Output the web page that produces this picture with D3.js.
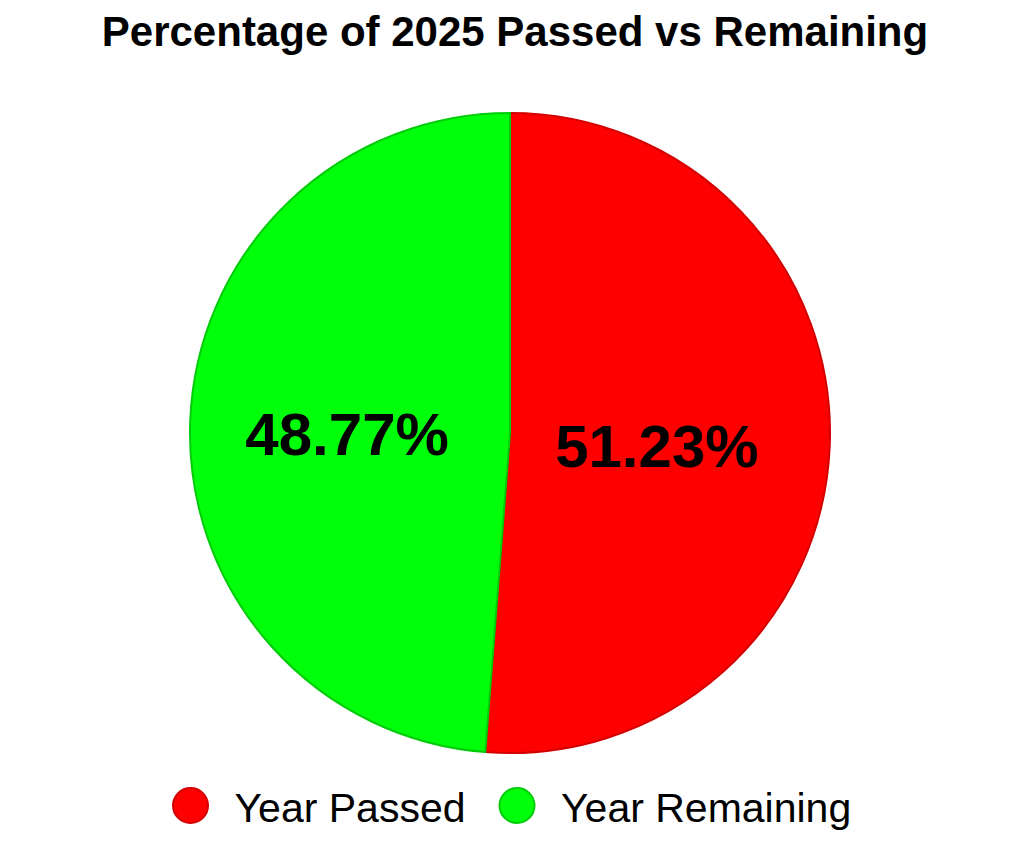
<!DOCTYPE html>
<html><head><meta charset="utf-8">
<script src="https://cdn.jsdelivr.net/npm/d3@7"></script>
<style>html,body{margin:0;padding:0;background:#fff;}</style>
</head><body>
<svg id="chart" width="1029" height="854"></svg>
<script>
const categories = ["Year Passed", "Year Remaining"];
const values = [51.23, 48.77];
const colors = ["#ff0000", "#00ff0a"];
const strokes = ["#d40000", "#00cc0a"];
const title = "Percentage of 2025 Passed vs Remaining";

const svg = d3.select("#chart");
const cx = 510, cy = 433, R = 320;
const font = "'Liberation Sans', Arial, Helvetica, sans-serif";

svg.append("text").attr("x", 515).attr("y", 46).attr("text-anchor", "middle")
  .attr("font-family", font).attr("font-weight", "bold").attr("font-size", 42)
  .text(title);

const pie = d3.pie().sort(null).value(d => d.v);
const data = pie(categories.map((c, i) => ({c, v: values[i], i})));
const arc = d3.arc().innerRadius(0).outerRadius(R);
const labelArc = d3.arc().innerRadius(155).outerRadius(155);

const g = svg.append("g").attr("transform", `translate(${cx},${cy})`);
g.selectAll("path").data(data).join("path")
  .attr("d", arc)
  .attr("fill", d => colors[d.data.i])
  .attr("stroke", d => strokes[d.data.i])
  .attr("stroke-width", 2);

g.selectAll("text").data(data).join("text")
  .attr("transform", d => { const p = labelArc.centroid(d); return `translate(${p[0] - 8},${p[1] + 6})`; })
  .attr("text-anchor", "middle").attr("dy", "0.36em")
  .attr("font-family", font).attr("font-weight", "bold").attr("font-size", 60)
  .text(d => d.data.v.toFixed(2) + "%");

// legend
const lg = svg.append("g");
const legendX = [190.5, 517];
categories.forEach((c, i) => {
  lg.append("circle").attr("cx", legendX[i]).attr("cy", 805.5).attr("r", 17.5)
    .attr("fill", colors[i]).attr("stroke", strokes[i]).attr("stroke-width", 2);
  lg.append("text").attr("x", legendX[i] + 44).attr("y", 822)
    .attr("font-family", font).attr("font-size", 41).text(c);
});
</script>
</body></html>
